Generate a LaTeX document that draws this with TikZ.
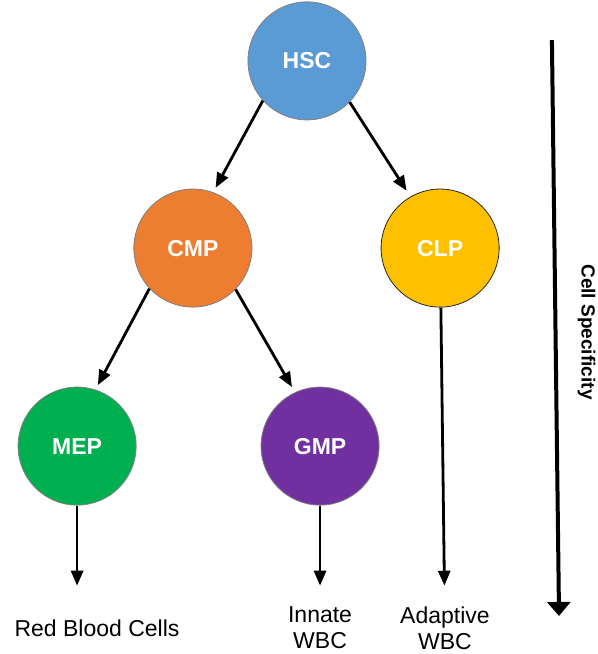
\documentclass[tikz,border=0pt]{standalone}
\usepackage{fontspec}
\setmainfont{Liberation Sans}
\usetikzlibrary{arrows.meta}
\definecolor{hscblue}{RGB}{91,155,213}
\definecolor{cmporange}{RGB}{237,125,49}
\definecolor{clpyellow}{RGB}{255,192,0}
\definecolor{mepgreen}{RGB}{0,176,80}
\definecolor{gmppurple}{RGB}{112,48,160}

\begin{document}
\begin{tikzpicture}
	\tikzstyle{cell}=[circle, draw=gray, line width=0.8pt, text=white,
	minimum size=4.15cm, inner sep=0pt, font=\fontsize{23}{26}\selectfont\bfseries]
	\tikzstyle{fate}=[align=center, minimum height=2.95cm, inner sep=0pt,
	font=\fontsize{23}{26}\selectfont]
	\tikzstyle{lineage}=[line width=2.8pt, -{Triangle[length=15pt, width=12pt]}]

	\useasboundingbox (0,0) rectangle (20.985,-22.988);

	\node[cell, fill=hscblue] at (10.79,-2.14) (hsc) {HSC};
	\node[cell, fill=cmporange] at (6.78,-8.72) (cmp) {CMP};
	\node[cell, fill=clpyellow, draw=black!85] at (15.47,-8.72) (clp) {CLP};
	\node[cell, fill=mepgreen] at (2.71,-15.68) (mep) {MEP};
	\node[cell, fill=gmppurple] at (11.25,-15.68) (gmp) {GMP};

	\node[fate] at (3.41,-22.07) (rbc) {Red Blood Cells};
	\node[fate] at (11.25,-22.07) (innate) {Innate\\WBC};
	\node[fate] at (15.64,-22.07) (adaptive) {Adaptive\\WBC};

	\draw[lineage, shorten >=5pt] (hsc.222) -- (cmp.70);
	\draw[lineage, shorten >=7pt] (hsc.316) -- (clp.120);
	\draw[lineage, shorten >=5pt] (cmp.223) -- (mep.72);
	\draw[lineage, shorten >=6pt] (cmp.316) -- (gmp.115);

	\draw[lineage] (mep) -- (mep |- rbc.north);
	\draw[lineage] (gmp) -- (innate);
	\draw[lineage] (clp) -- (adaptive);

	% specificity axis
	\coordinate (axistop) at (19.40,-1.41);
	\coordinate (axistip) at (19.65,-21.65);
	\draw[line width=4pt, -{Triangle[length=14pt, width=23pt]}] (axistop) -- (axistip);
	\node[rotate=-90, font=\fontsize{19}{22}\selectfont\bfseries] at (20.62,-11.67) (specificity) {Cell Specificity};

\end{tikzpicture}
\end{document}
